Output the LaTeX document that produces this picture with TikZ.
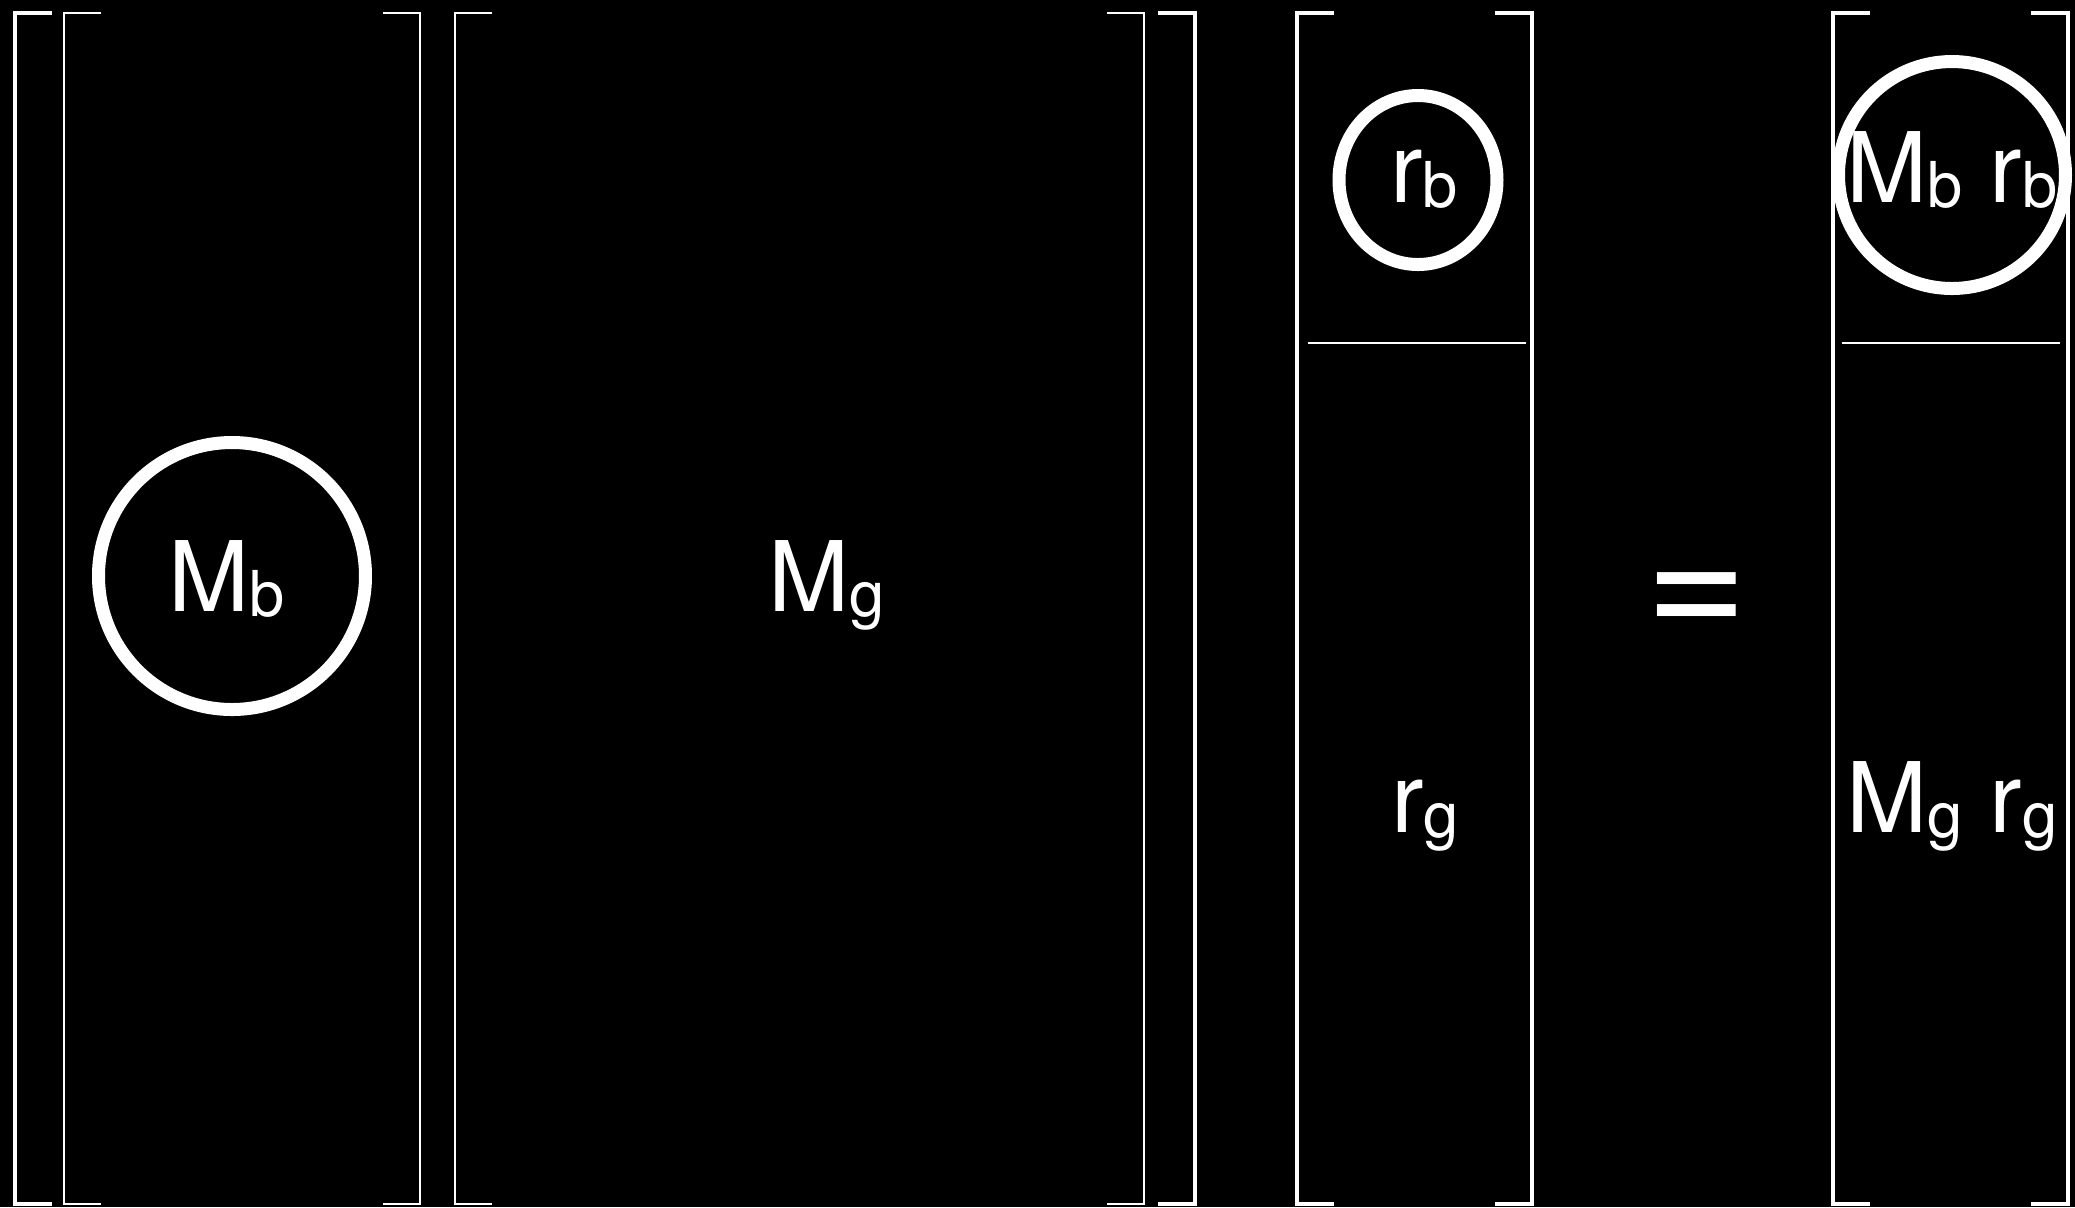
\documentclass[tikz,border=0pt]{standalone}
\usepackage{fontspec}
\setmainfont{TeX Gyre Heros}
\usetikzlibrary{shapes.geometric}
\newcommand{\lowsub}[1]{\raisebox{-1.5pt}{\fontsize{18}{18}\selectfont #1}}

\begin{document}
\begin{tikzpicture}[x=0.1mm,y=-0.1mm,
 thinbrk/.style={draw=white,line width=0.7pt},
 thickbrk/.style={draw=white,line width=1.3pt},
 ring/.style={ellipse,draw=white,line width=3.7pt,inner sep=0pt},
 lbl/.style={text=white,inner sep=0pt,anchor=base,font=\fontsize{27.7}{30}\selectfont}]
 \fill[black] (0,0) rectangle (2075,1207);
 \useasboundingbox (0,0) rectangle (2075,1207);
 % brackets
 \foreach \x/\s in {15/thickbrk,64/thinbrk,455/thinbrk,1297/thickbrk,1833/thickbrk}
   \draw[\s] (\x+37,13) -| (\x,1204) -- ++(37,0);
 \foreach \x/\s in {420/thinbrk,1144/thinbrk,1195/thickbrk,1532/thickbrk,2068/thickbrk}
   \draw[\s] (\x-37,13) -| (\x,1204) -- ++(-37,0);
 \draw[thinbrk] (1308,343) -- (1526,343);
 \draw[thinbrk] (1842,343) -- (2060,343);
 % circled blocks
 \node[ring,minimum width=26.7mm,minimum height=26.7mm] (mbring) at (232,576) {};
 \node[ring,minimum width=15.8mm,minimum height=16.9mm] (rbring) at (1418,180) {};
 \node[ring,minimum width=22.7mm,minimum height=22.7mm] (resring) at (1952,175) {};
 % labels
 \node[lbl] (mb) at (227,611) {M\lowsub{b}};
 \node[lbl] (mg) at (827,611) {M\lowsub{g}};
 \node[lbl] (rb) at (1424,202) {r\lowsub{b}};
 \node[lbl] (rg) at (1425,832) {r\lowsub{g}};
 \node[lbl] (mbrb) at (1952,202) {M\lowsub{b} r\lowsub{b}};
 \node[lbl] (mgrg) at (1952,832) {M\lowsub{g} r\lowsub{g}};
 \node[text=white,inner sep=0pt,font=\fontsize{50}{52}\selectfont] (eq) at (1697,606) {=};
\end{tikzpicture}
\end{document}
